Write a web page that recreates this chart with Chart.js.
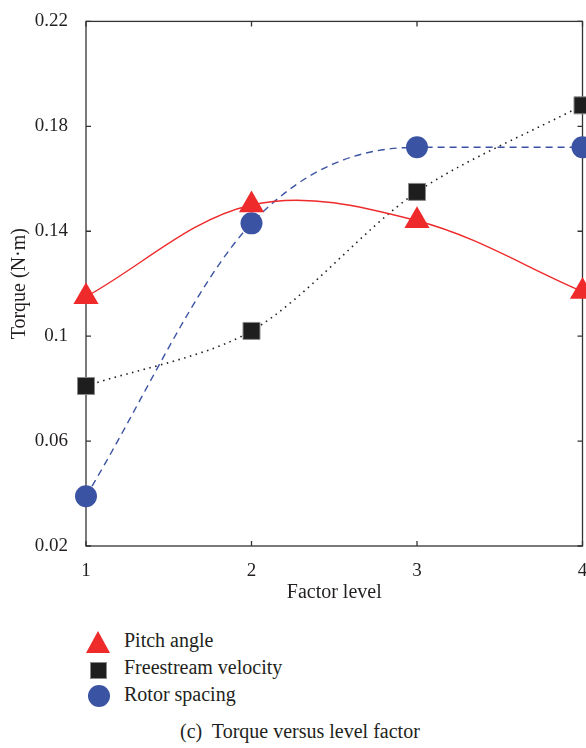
<!DOCTYPE html>
<html>
<head>
<meta charset="utf-8">
<script src="https://cdn.jsdelivr.net/npm/chart.js@4.4.1/dist/chart.umd.min.js"></script>
<style>
  body { margin: 0; background: #fff; }
  #wrap { position: relative; width: 586px; height: 748px; font-family: "Liberation Serif", "DejaVu Serif", serif; color: #231f20; }
  #c { position: absolute; left: 0; top: 0; }
  .txt { position: absolute; font-size: 20px; line-height: 20px; white-space: nowrap; }
  .mk { position: absolute; }
</style>
</head>
<body>
<div id="wrap">
  <canvas id="c" width="586" height="620"></canvas>
  <div id="legend"></div>
  <div class="txt" style="left:180px;top:721px">(c)&nbsp; Torque versus level factor</div>
</div>
<script>
// values
const levels = ['1', '2', '3', '4'];
const pitchAngle = [0.115, 0.150, 0.144, 0.117];
const freestreamVelocity = [0.081, 0.102, 0.155, 0.188];
const rotorSpacing = [0.039, 0.143, 0.172, 0.172];
const yTicks = [0.02, 0.06, 0.1, 0.14, 0.18, 0.22];

const RED = '#ee2a2b', BLACK = '#1e1e1e', BLUE = '#3b53a3';
const font = { family: '"Liberation Serif", "DejaVu Serif", serif', size: 19 };

// box round the plot with inward ticks on all four sides
const frame = {
  id: 'frame',
  beforeDatasetsDraw(chart) {
    const { ctx, chartArea: a, scales: { x, y } } = chart;
    ctx.save();
    ctx.strokeStyle = '#333';
    ctx.lineWidth = 1.3;
    ctx.strokeRect(a.left, a.top, a.right - a.left, a.bottom - a.top);
    ctx.beginPath();
    x.ticks.forEach((t, i) => {
      const px = x.getPixelForTick(i);
      ctx.moveTo(px, a.bottom); ctx.lineTo(px, a.bottom - 5);
      ctx.moveTo(px, a.top); ctx.lineTo(px, a.top + 5);
    });
    y.ticks.forEach((t, i) => {
      const py = y.getPixelForTick(i);
      ctx.moveTo(a.left, py); ctx.lineTo(a.left + 5, py);
      ctx.moveTo(a.right, py); ctx.lineTo(a.right - 5, py);
    });
    ctx.stroke();
    ctx.restore();
  }
};

const chart = new Chart(document.getElementById('c'), {
  type: 'line',
  data: {
    labels: levels,
    datasets: [
      { label: 'Pitch angle', data: pitchAngle, borderColor: RED, backgroundColor: RED,
        borderWidth: 1.4, tension: 0.35, pointStyle: 'triangle', pointRadius: 14.5, pointBorderWidth: 0 },
      { label: 'Freestream velocity', data: freestreamVelocity, borderColor: BLACK, backgroundColor: BLACK,
        borderWidth: 1.6, borderDash: [1.5, 4.5], tension: 0.3, pointStyle: 'rect', pointRadius: 12,
        pointBorderColor: '#8a8a8a', pointBorderWidth: 1 },
      { label: 'Rotor spacing', data: rotorSpacing, borderColor: BLUE, backgroundColor: BLUE,
        borderWidth: 1.4, borderDash: [7, 5], cubicInterpolationMode: 'monotone', pointStyle: 'circle',
        pointRadius: 11, pointBorderWidth: 0 }
    ]
  },
  options: {
    responsive: false,
    animation: false,
    clip: false,
    layout: { autoPadding: false, padding: { top: 16.5, right: 3.5, left: 0, bottom: 0 } },
    plugins: { legend: { display: false }, tooltip: { enabled: false } },
    scales: {
      x: {
        grid: { display: false }, border: { display: false },
        ticks: { color: '#231f20', font, padding: 6, maxRotation: 0 },
        title: { display: true, text: 'Factor level', color: '#231f20', font: { ...font, size: 20 }, padding: { top: 0, bottom: 15 } },
        afterFit: s => { s.height = 620 - 546; s.paddingRight = 0; s.paddingLeft = 0; }
      },
      y: {
        min: 0.02, max: 0.22,
        grid: { display: false }, border: { display: false },
        afterBuildTicks: s => { s.ticks = yTicks.map(v => ({ value: v })); },
        ticks: { color: '#231f20', font, padding: 10, callback: v => String(Number(v.toFixed(2))) },
        title: { display: true, text: 'Torque (N·m)', color: '#231f20', font: { ...font, size: 20 }, padding: { top: 8, bottom: 0 } },
        afterFit: s => { s.width = 86; }
      }
    }
  },
  plugins: [frame]
});

// legend under the plot, one row per series
const legend = document.getElementById('legend');
const rows = [
  { top: 630, mark: 'left:86px;top:631px;width:0;height:0;border-left:12.5px solid transparent;border-right:12.5px solid transparent;border-bottom:22px solid ' + RED },
  { top: 657, mark: 'left:90px;top:662px;width:15px;height:15px;border:1px solid #8a8a8a;background:' + BLACK },
  { top: 684, mark: 'left:88px;top:685px;width:22px;height:22px;border-radius:50%;background:' + BLUE }
];
chart.data.datasets.forEach((ds, i) => {
  const m = document.createElement('div');
  m.className = 'mk';
  m.style.cssText = rows[i].mark;
  legend.appendChild(m);
  const t = document.createElement('div');
  t.className = 'txt';
  t.style.left = '124px';
  t.style.top = rows[i].top + 'px';
  t.textContent = ds.label;
  legend.appendChild(t);
});
</script>
</body>
</html>
